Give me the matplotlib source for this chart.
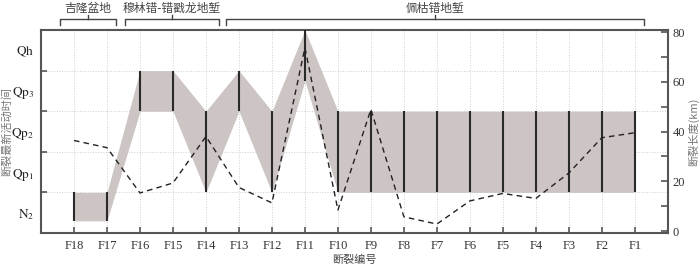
import matplotlib.pyplot as plt
from matplotlib.ticker import FixedLocator, NullFormatter

plt.rcParams['font.family'] = ['Liberation Serif', 'Noto Sans CJK SC']
plt.rcParams['mathtext.fontset'] = 'stix'

# 断裂编号
faults = ['F18', 'F17', 'F16', 'F15', 'F14', 'F13', 'F12', 'F11', 'F10',
          'F9', 'F8', 'F7', 'F6', 'F5', 'F4', 'F3', 'F2', 'F1']
# 最新活动时间范围 (0 = N2 底, 每个时代一格)
age_low = [0.3, 0.3, 3, 3, 1, 3, 1, 3.75, 1, 1, 1, 1, 1, 1, 1, 1, 1, 1]
age_high = [1, 1, 4, 4, 3, 4, 3, 5, 3, 3, 3, 3, 3, 3, 3, 3, 3, 3]
# 断裂长度 (km)
length_km = [36.4, 33.5, 15.3, 19.3, 38.0, 17.5, 11.3, 73.7, 8.4, 48.9,
             5.7, 2.8, 12.1, 15.1, 13.1, 23.3, 37.5, 39.5]
age_labels = ['$\\mathrm{N_2}$', '$\\mathrm{Qp_1}$', '$\\mathrm{Qp_2}$',
              '$\\mathrm{Qp_3}$', '$\\mathrm{Qh}$']
# 分组: (名称, 起点, 终点)
groups = [('吉隆盆地', -0.43, 1.28),
          ('穆林错-错戳龙地堑', 1.54, 4.4),
          ('佩枯错地堑', 4.6, 17.28)]

x = list(range(len(faults)))
spine_c = '#555555'
text_c = '#444444'

fig = plt.figure(figsize=(7, 2.68), dpi=100)
ax = fig.add_axes([0.0586, 0.1306, 0.8954, 0.7574])

ax.fill_between(x, age_low, age_high, color='#ccc5c3', lw=0, zorder=2)
ax.vlines(x, age_low, age_high, color='#2a2a2a', lw=1.5, zorder=3)

ax.set_xlim(-1, 18)
ax.set_ylim(0, 5)
ax.set_xticks(x)
ax.set_xticklabels(faults, fontsize=9, color='#333333')
ax.yaxis.set_major_locator(FixedLocator([1, 2, 3, 4]))
ax.yaxis.set_major_formatter(NullFormatter())
ax.yaxis.set_minor_locator(FixedLocator([0.5, 1.5, 2.5, 3.5, 4.5]))
ax.set_yticklabels(age_labels, minor=True, fontsize=9.5, color='#222222')
ax.tick_params(axis='y', which='minor', length=0, pad=5)
ax.tick_params(axis='both', which='major', direction='in', length=4,
               width=1.2, color=spine_c)
ax.tick_params(axis='x', pad=5)
ax.grid(True, which='major', linestyle=':', color='#cfcfcf', lw=0.7, zorder=0)
for s in ax.spines.values():
    s.set_color(spine_c)
    s.set_linewidth(1.5)
ax.set_xlabel('断裂编号', fontsize=8, color=text_c,
              family=['Noto Sans CJK SC'])
ax.xaxis.set_label_coords(0.5, -0.105)
ax.set_ylabel('断裂最新活动时间', fontsize=8, color='#777777',
              family=['Noto Sans CJK SC'])
ax.yaxis.set_label_coords(-0.047, 0.5)

ax2 = ax.twinx()
ax2.plot(x, length_km, color='#222222', lw=1, linestyle=(0, (4, 3)), zorder=4)
ax2.set_ylim(-0.8, 80.8)
ax2.yaxis.set_major_locator(FixedLocator([0, 20, 40, 60, 80]))
ax2.yaxis.set_minor_locator(FixedLocator([10, 30, 50, 70]))
ax2.tick_params(axis='y', which='both', direction='in', length=5,
                width=1.2, color=spine_c, labelsize=9, labelcolor='#333333')
for s in ax2.spines.values():
    s.set_visible(False)
ax2.set_ylabel('断裂长度(km)', fontsize=8, color='#777777',
               family=['Noto Sans CJK SC', 'Liberation Serif'])
ax2.yaxis.set_label_coords(1.032, 0.5)

# 顶部分组括号
tr = ax.get_xaxis_transform()
for name, a, b in groups:
    mid = (a + b) / 2
    ax.plot([a, a, b, b], [1.025, 1.053, 1.053, 1.025], color='#444444',
            lw=1, transform=tr, clip_on=False)
    ax.plot([mid, mid], [1.053, 1.074], color='#444444', lw=1,
            transform=tr, clip_on=False)
    ax.text(mid, 1.108, name, transform=tr, ha='center', va='center',
            fontsize=8.5, color=text_c, family=['Noto Sans CJK SC'])

fig.savefig('out.png', dpi=100)
